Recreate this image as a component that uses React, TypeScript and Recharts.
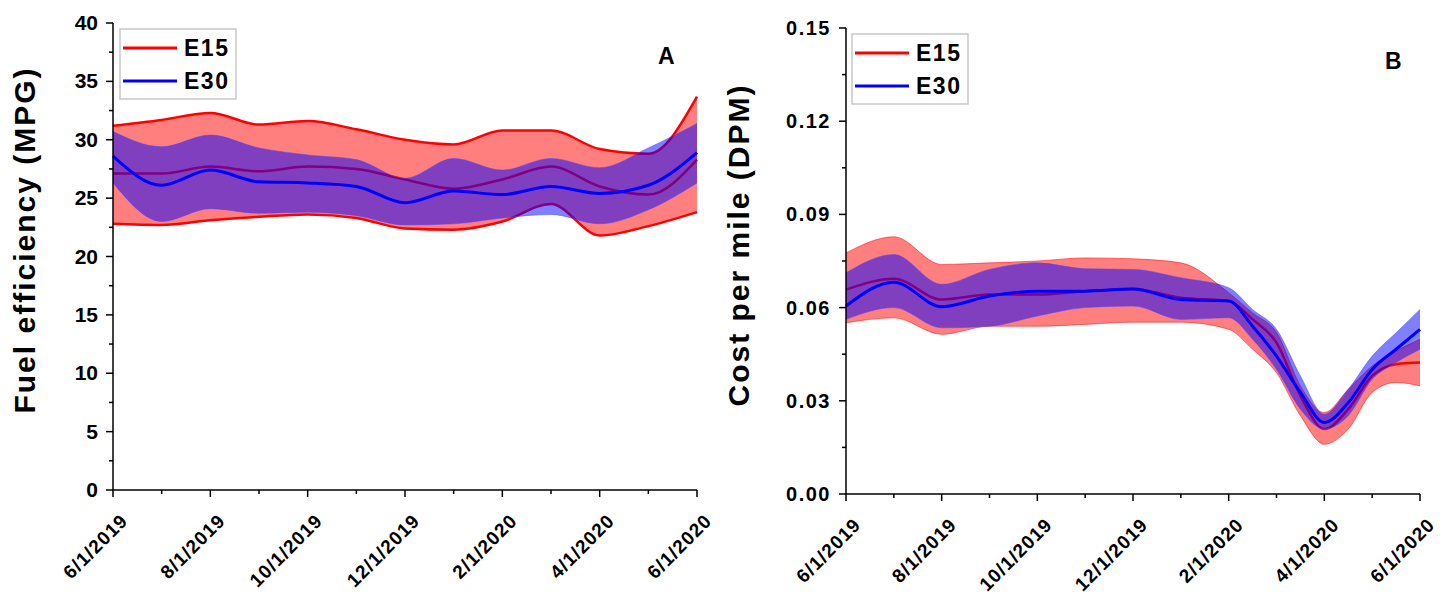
import React from "react"
import { ComposedChart, Area, Line, XAxis, YAxis } from "recharts"

// months since 6/1/2019
const xTicks = [0, 1, 2, 3, 4, 5, 6, 7, 8, 9, 10, 11, 12]
const xTickLabels = ["6/1/2019", "", "8/1/2019", "", "10/1/2019", "", "12/1/2019", "", "2/1/2020", "", "4/1/2020", "", "6/1/2020"]

// Panel A - fuel efficiency (MPG)
const monthsA = [0, 1, 2, 3, 4, 5, 6, 7, 8, 9, 10, 11, 12]
const mpgE15 = [27.1, 27.1, 27.7, 27.3, 27.7, 27.5, 26.6, 25.8, 26.6, 27.7, 26.0, 25.3, 28.3]
const mpgE15Low = [22.8, 22.7, 23.1, 23.4, 23.6, 23.3, 22.4, 22.3, 23.0, 24.5, 21.8, 22.6, 23.8]
const mpgE15High = [31.2, 31.7, 32.3, 31.3, 31.6, 30.9, 30.0, 29.6, 30.8, 30.8, 29.2, 28.8, 33.7]
const mpgE30 = [28.6, 26.1, 27.4, 26.4, 26.3, 26.0, 24.6, 25.6, 25.3, 26.0, 25.4, 26.1, 28.9]
const mpgE30Low = [26.3, 23.0, 24.1, 23.7, 23.8, 23.5, 22.7, 22.8, 23.3, 23.6, 22.8, 24.0, 26.3]
const mpgE30High = [30.7, 29.4, 30.4, 29.3, 28.7, 28.3, 26.7, 28.4, 27.4, 28.4, 27.6, 29.3, 31.4]
const yTicksA = [0, 2.5, 5, 7.5, 10, 12.5, 15, 17.5, 20, 22.5, 25, 27.5, 30, 32.5, 35, 37.5, 40]

// Panel B - cost per mile (DPM)
const monthsB = [0, 1, 2, 3, 4, 5, 6, 7, 8, 8.5, 9, 9.5, 10, 10.5, 11, 11.5, 12]
const dpmE15 = [0.0658, 0.0693, 0.0626, 0.0642, 0.0642, 0.0653, 0.066, 0.0632, 0.0621, 0.0562, 0.0487, 0.0316, 0.0209, 0.0273, 0.038, 0.0418, 0.0423]
const dpmE15Low = [0.0551, 0.0567, 0.0514, 0.054, 0.054, 0.0546, 0.0553, 0.0553, 0.053, 0.0466, 0.039, 0.0252, 0.016, 0.0209, 0.0327, 0.0359, 0.0348]
const dpmE15High = [0.0776, 0.0828, 0.0739, 0.0744, 0.075, 0.076, 0.0757, 0.0744, 0.0648, 0.0583, 0.052, 0.0348, 0.0262, 0.0337, 0.0412, 0.046, 0.0498]
const dpmE30 = [0.0605, 0.0682, 0.0603, 0.0637, 0.0653, 0.0653, 0.066, 0.0626, 0.0621, 0.054, 0.0444, 0.0327, 0.023, 0.0294, 0.0401, 0.0466, 0.053]
const dpmE30Low = [0.0562, 0.06, 0.0535, 0.054, 0.0573, 0.06, 0.0605, 0.0562, 0.0567, 0.0498, 0.0401, 0.0273, 0.0209, 0.0252, 0.0369, 0.0423, 0.0466]
const dpmE30High = [0.0712, 0.0771, 0.0675, 0.0723, 0.0744, 0.0725, 0.0723, 0.0696, 0.0664, 0.0594, 0.053, 0.038, 0.0257, 0.0337, 0.0444, 0.0519, 0.0594]
const yTicksB = [0, 0.015, 0.03, 0.045, 0.06, 0.075, 0.09, 0.105, 0.12, 0.135, 0.15]

const FONT = "'Liberation Sans', Arial, sans-serif"
const RED = "#ff0000"
const BLUE = "#0000ff"

function buildRows(months: number[], mean15: number[], lo15: number[], hi15: number[], mean30: number[], lo30: number[], hi30: number[]) {
  return months.map((m, i) => ({
    m,
    e15: mean15[i],
    e15Band: [lo15[i], hi15[i]],
    e30: mean30[i],
    e30Band: [lo30[i], hi30[i]],
  }))
}

const dataA = buildRows(monthsA, mpgE15, mpgE15Low, mpgE15High, mpgE30, mpgE30Low, mpgE30High)
const dataB = buildRows(monthsB, dpmE15, dpmE15Low, dpmE15High, dpmE30, dpmE30Low, dpmE30High)

// eslint-disable-next-line @typescript-eslint/no-explicit-any
function XTick({ x, y, payload }: any) {
  const label = xTickLabels[Math.round(payload.value)] || ""
  const major = label !== ""
  const tx = x + 16
  const ty = y + 32
  return (
    <g>
      <line x1={x} x2={x} y1={y} y2={y + (major ? 7 : 4)} stroke="#000" strokeWidth={1.5} />
      {major && (
        <text
          x={tx}
          y={ty}
          transform={`rotate(-45 ${tx} ${ty})`}
          textAnchor="end"
          fontSize={19}
          fontWeight="bold"
          letterSpacing={1}
          fontFamily={FONT}
          fill="#000"
        >
          {label}
        </text>
      )}
    </g>
  )
}

// eslint-disable-next-line @typescript-eslint/no-explicit-any
function YTickA({ x, y, payload }: any) {
  const v = payload.value
  const major = v % 5 === 0
  return (
    <g>
      <line x1={x} x2={x - (major ? 7 : 4)} y1={y} y2={y} stroke="#000" strokeWidth={1.5} />
      {major && (
        <text x={x - 15} y={y + 7} textAnchor="end" fontSize={21} fontWeight="bold" fontFamily={FONT} fill="#000">
          {v}
        </text>
      )}
    </g>
  )
}

// eslint-disable-next-line @typescript-eslint/no-explicit-any
function YTickB({ x, y, payload }: any) {
  const v = payload.value
  const major = Math.round(v / 0.015) % 2 === 0
  return (
    <g>
      <line x1={x} x2={x - (major ? 7 : 4)} y1={y} y2={y} stroke="#000" strokeWidth={1.5} />
      {major && (
        <text x={x - 15} y={y + 7} textAnchor="end" fontSize={20} fontWeight="bold" letterSpacing={1.5} fontFamily={FONT} fill="#000">
          {v.toFixed(2)}
        </text>
      )}
    </g>
  )
}

interface PanelProps {
  data: ReturnType<typeof buildRows>
  width: number
  margin: { top: number; right: number }
  yWidth: number
  xHeight: number
  yDomain: [number, number]
  yTicks: number[]
  // eslint-disable-next-line @typescript-eslint/no-explicit-any
  yTick: (p: any) => React.ReactElement
  bandStroke15: number
  bandOpacity15: number
}

function Panel({ data, width, margin, yWidth, xHeight, yDomain, yTicks, yTick, bandStroke15, bandOpacity15 }: PanelProps) {
  return (
    <ComposedChart width={width} height={596} data={data} margin={{ top: margin.top, right: margin.right, bottom: 0, left: 0 }}>
      <XAxis
        dataKey="m"
        type="number"
        domain={[0, 12]}
        ticks={xTicks}
        interval={0}
        tick={XTick}
        tickLine={false}
        tickSize={0}
        tickMargin={0}
        height={xHeight}
        axisLine={{ stroke: "#000", strokeWidth: 1.5 }}
      />
      <XAxis xAxisId="top" orientation="top" dataKey="m" type="number" domain={[0, 12]} height={0} tick={false} tickLine={false} axisLine={{ stroke: "#000", strokeWidth: 1.5 }} />
      <YAxis
        type="number"
        domain={yDomain}
        ticks={yTicks}
        interval={0}
        tick={yTick}
        tickLine={false}
        tickSize={0}
        tickMargin={0}
        width={yWidth}
        axisLine={{ stroke: "#000", strokeWidth: 1.5 }}
      />
      <YAxis yAxisId="right" orientation="right" type="number" domain={yDomain} width={0} tick={false} tickLine={false} axisLine={{ stroke: "#000", strokeWidth: 1.5 }} />

      <Area
        type="monotone"
        dataKey="e15Band"
        fill={RED}
        fillOpacity={0.5}
        stroke={RED}
        strokeWidth={bandStroke15}
        strokeOpacity={bandOpacity15}
        isAnimationActive={false}
        dot={false}
        activeDot={false}
      />
      <Area type="monotone" dataKey="e15" fill="none" stroke={RED} strokeWidth={2.5} isAnimationActive={false} dot={false} activeDot={false} />
      <Area
        type="monotone"
        dataKey="e30Band"
        fill={BLUE}
        fillOpacity={0.5}
        stroke="#4a4aff"
        strokeWidth={1}
        strokeOpacity={0.5}
        isAnimationActive={false}
        dot={false}
        activeDot={false}
      />
      <Line type="monotone" dataKey="e30" stroke={BLUE} strokeWidth={3} isAnimationActive={false} dot={false} activeDot={false} />
    </ComposedChart>
  )
}

function LegendBox({ left, top }: { left: number; top: number }) {
  return (
    <g>
      <rect x={left} y={top} width={116} height={70} fill="#fff" stroke="#c8c8c8" strokeWidth={1.5} />
      <line x1={left + 3} x2={left + 57} y1={top + 19} y2={top + 19} stroke={RED} strokeWidth={3} />
      <text x={left + 64} y={top + 27} fontSize={23} fontWeight="bold" letterSpacing={1.5} fontFamily={FONT} fill="#000">
        E15
      </text>
      <line x1={left + 3} x2={left + 57} y1={top + 52} y2={top + 52} stroke={BLUE} strokeWidth={3} />
      <text x={left + 64} y={top + 60} fontSize={23} fontWeight="bold" letterSpacing={1.5} fontFamily={FONT} fill="#000">
        E30
      </text>
    </g>
  )
}

export default function App() {
  return (
    <div style={{ position: "absolute", left: 0, top: 0, width: 1452, height: 596, background: "#fff", fontFamily: FONT }}>
      <div style={{ position: "absolute", left: 0, top: 0 }}>
        <Panel
          data={dataA}
          width={720}
          margin={{ top: 23, right: 23 }}
          yWidth={113}
          xHeight={106}
          yDomain={[0, 40]}
          yTicks={yTicksA}
          yTick={YTickA}
          bandStroke15={2.5}
          bandOpacity15={1}
        />
      </div>
      <div style={{ position: "absolute", left: 720, top: 0 }}>
        <Panel
          data={dataB}
          width={732}
          margin={{ top: 28, right: 32 }}
          yWidth={126}
          xHeight={102}
          yDomain={[0, 0.15]}
          yTicks={yTicksB}
          yTick={YTickB}
          bandStroke15={1}
          bandOpacity15={0.5}
        />
      </div>
      <svg width={1452} height={596} style={{ position: "absolute", left: 0, top: 0, pointerEvents: "none" }}>
        <text
          x={35}
          y={240}
          transform="rotate(-90 35 240)"
          textAnchor="middle"
          fontSize={30}
          fontWeight="bold"
          letterSpacing={2}
          fontFamily={FONT}
          fill="#000"
        >
          Fuel efficiency (MPG)
        </text>
        <text
          x={749}
          y={245}
          transform="rotate(-90 749 245)"
          textAnchor="middle"
          fontSize={30}
          fontWeight="bold"
          letterSpacing={2}
          fontFamily={FONT}
          fill="#000"
        >
          Cost per mile (DPM)
        </text>
        <LegendBox left={120} top={29} />
        <LegendBox left={852} top={34} />
        <text x={658} y={64} fontSize={23} fontWeight="bold" fontFamily={FONT} fill="#000">
          A
        </text>
        <text x={1385} y={69} fontSize={23} fontWeight="bold" fontFamily={FONT} fill="#000">
          B
        </text>
      </svg>
    </div>
  )
}
